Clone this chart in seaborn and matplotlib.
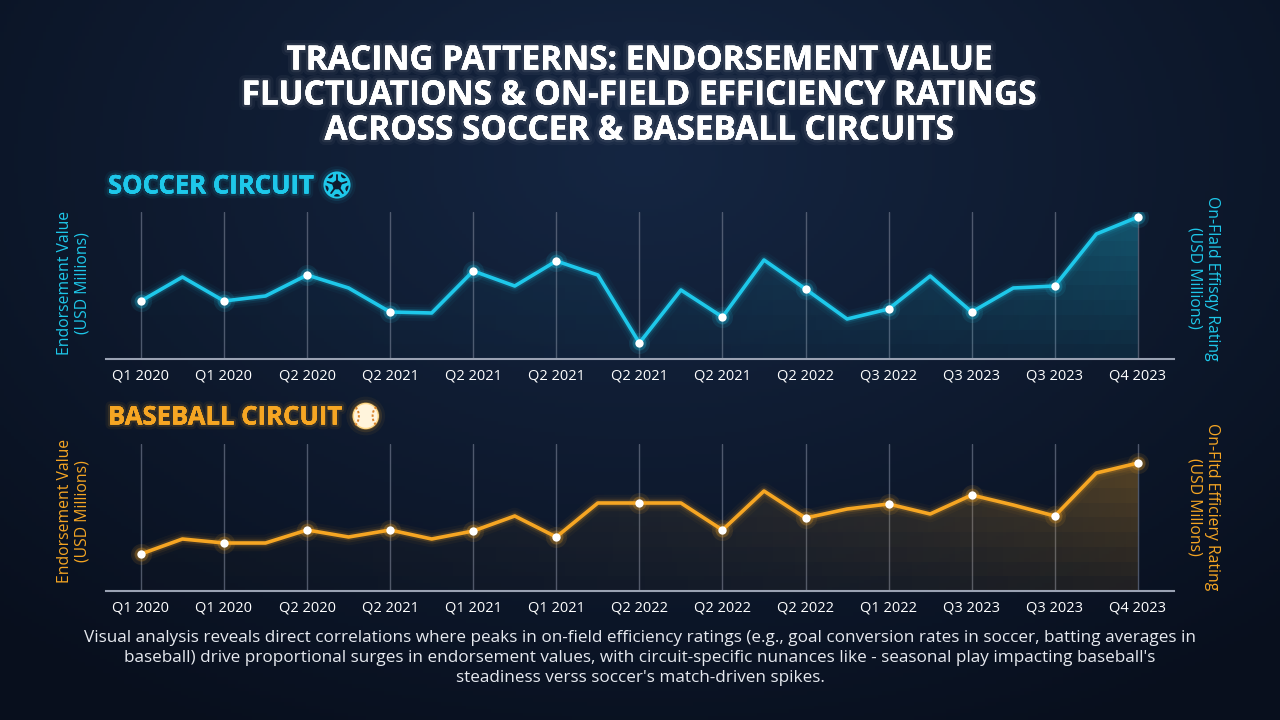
import numpy as np
import pandas as pd
import matplotlib
matplotlib.use("Agg")
import matplotlib.pyplot as plt
import matplotlib.patheffects as pe
from matplotlib.patches import Circle, Polygon, Arc
import seaborn as sns

# ---------------- data ----------------
soccer_values = [5.8, 8.2, 5.8, 6.3, 8.4, 7.1, 4.7, 4.6, 8.8, 7.3, 9.8, 8.4, 1.6,
                 6.9, 4.2, 9.9, 7.0, 4.0, 5.0, 8.3, 4.7, 7.1, 7.3, 12.5, 14.2]
baseball_values = [3.7, 5.2, 4.8, 4.8, 6.1, 5.4, 6.1, 5.2, 6.0, 7.5, 5.4, 8.8, 8.8,
                   8.8, 6.1, 10.0, 7.3, 8.2, 8.7, 7.7, 9.6, 8.6, 7.5, 11.8, 12.8]
soccer_ticks = ["Q1 2020", "Q1 2020", "Q2 2020", "Q2 2021", "Q2 2021", "Q2 2021", "Q2 2021",
                "Q2 2021", "Q2 2022", "Q3 2022", "Q3 2023", "Q3 2023", "Q4 2023"]
baseball_ticks = ["Q1 2020", "Q1 2020", "Q2 2020", "Q2 2021", "Q1 2021", "Q1 2021", "Q2 2022",
                  "Q2 2022", "Q2 2022", "Q1 2022", "Q3 2023", "Q3 2023", "Q4 2023"]

title = ("TRACING PATTERNS: ENDORSEMENT VALUE\n"
         "FLUCTUATIONS & ON-FIELD EFFICIENCY RATINGS\n"
         "ACROSS SOCCER & BASEBALL CIRCUITS")
footer = ("Visual analysis reveals direct correlations where peaks in on-field efficiency ratings (e.g., goal conversion rates in soccer, batting averages in\n"
          "baseball) drive proportional surges in endorsement values, with circuit-specific nunances like - seasonal play impacting baseball's\n"
          "steadiness verss soccer's match-driven spikes.")

sns.set_theme(style="dark")
plt.rcParams['font.family'] = ['Open Sans', 'DejaVu Sans']

W, H = 1280, 720
fig = plt.figure(figsize=(12.8, 7.2), dpi=100)

# ---------------- background ----------------
bg = fig.add_axes([0, 0, 1, 1], zorder=-10)
yy, xx = np.mgrid[0:1:200j, 0:1:360j]
r = np.sqrt(((xx - 0.5) / 0.75) ** 2 + ((yy - 0.22) / 0.9) ** 2)
r = np.clip(r, 0, 1)
c_in = np.array([0x15, 0x26, 0x42]) / 255
c_out = np.array([0x08, 0x0f, 0x1d]) / 255
img = c_in[None, None, :] * (1 - r[..., None]) + c_out[None, None, :] * r[..., None]
bg.imshow(img, extent=[0, 1, 0, 1], aspect='auto', origin='upper')
bg.set_axis_off()


def fx(px):
    return px / W


def fy(py):
    return 1 - py / H


glow_white = [pe.withStroke(linewidth=8, foreground=(1, 1, 1, 0.04)),
              pe.withStroke(linewidth=4, foreground=(1, 1, 1, 0.07)), pe.Normal()]
fig.text(0.5, fy(96), title, ha='center', va='center', color='white',
         fontsize=24, fontweight='bold', linespacing=1.08, path_effects=glow_white)

fig.text(0.5, fy(658), footer, ha='center', va='center', color='#e6e9ef',
         fontsize=12.3, linespacing=1.36)


def icon_axes(cx, cy, rad):
    a = fig.add_axes([fx(cx - rad * 1.6), fy(cy + rad * 1.6), fx(rad * 3.2), rad * 3.2 / H])
    a.set_xlim(-1.6, 1.6)
    a.set_ylim(-1.6, 1.6)
    a.set_axis_off()
    a.set_facecolor((0, 0, 0, 0))
    return a


def soccer_icon(cx, cy, rad, color):
    a = icon_axes(cx, cy, rad)
    dark = '#0d1a2e'
    for rr, al in [(1.5, 0.06), (1.28, 0.12)]:
        a.add_patch(Circle((0, 0), rr, color=color, alpha=al, lw=0))
    a.add_patch(Circle((0, 0), 1.0, facecolor=color, edgecolor=color, lw=1.5))
    ang = np.deg2rad(90 + np.arange(5) * 72)
    pent = np.c_[0.36 * np.cos(ang), 0.36 * np.sin(ang)]
    a.add_patch(Polygon(pent, closed=True, color=dark))
    for t in ang:
        a.plot([0.36 * np.cos(t), 0.8 * np.cos(t)], [0.36 * np.sin(t), 0.8 * np.sin(t)],
               color=dark, lw=1.3)
        tt = t + np.deg2rad(36)
        c = Circle((0.98 * np.cos(tt), 0.98 * np.sin(tt)), 0.26, color=dark, lw=0)
        a.add_patch(c)
        c.set_clip_path(Circle((0, 0), 0.93, transform=a.transData))


def baseball_icon(cx, cy, rad, color):
    a = icon_axes(cx, cy, rad)
    for rr, al in [(1.55, 0.06), (1.3, 0.12), (1.12, 0.25)]:
        a.add_patch(Circle((0, 0), rr, color=color, alpha=al, lw=0))
    a.add_patch(Circle((0, 0), 1.0, facecolor='#fff4dc', edgecolor='#ffd98a', lw=1))
    a.add_patch(Arc((-1.35, 0), 1.6, 1.9, theta1=-55, theta2=55, color='#d9822b', lw=1.4,
                    ls=(0, (1.2, 1.0))))
    a.add_patch(Arc((1.35, 0), 1.6, 1.9, theta1=125, theta2=235, color='#d9822b', lw=1.4,
                    ls=(0, (1.2, 1.0))))


def panel(values, ticks, color, rect, name, icon, title_y, left_y, right_label, right_y):
    ax = fig.add_axes(rect)
    ax.set_facecolor((0, 0, 0, 0))
    n = len(values)
    df = pd.DataFrame({"q": np.arange(n), "v": values})
    ax.set_xlim(-0.84, n - 1 + 0.87)
    ax.set_ylim(0, 14.7)
    tick_pos = np.arange(0, n, 2)
    for t in tick_pos:
        ax.axvline(t, color='#6b7488', lw=1.0, alpha=0.7, zorder=1)
    rgb = matplotlib.colors.to_rgb(color)
    # gradient fill under the line
    poly = ax.fill_between(df.q, df.v, 0, color='none', lw=0)
    grad = np.zeros((10, 200, 4))
    grad[..., :3] = rgb
    gx = np.linspace(0, 1, 200)
    gy = np.linspace(1, 0, 10)[:, None]
    grad[..., 3] = (0.04 + 0.33 * gx ** 2.4)[None, :] * (0.3 + 0.7 * gy)
    im = ax.imshow(grad, extent=[-0.84, n - 0.13, 0, 14.7], aspect='auto',
                   origin='upper', zorder=2)
    im.set_clip_path(poly.get_paths()[0], transform=ax.transData)
    # glow layers
    for lw, a in [(12, 0.04), (8, 0.07), (5, 0.16)]:
        sns.lineplot(data=df, x="q", y="v", ax=ax, color=color, lw=lw, alpha=a,
                     zorder=3, legend=False)
    sns.lineplot(data=df, x="q", y="v", ax=ax, color=color, lw=2.6, zorder=4, legend=False)
    mk = df.iloc[::2]
    sns.scatterplot(data=mk, x="q", y="v", ax=ax, color=color, s=230, alpha=0.1,
                    linewidth=0, zorder=5, legend=False)
    sns.scatterplot(data=mk, x="q", y="v", ax=ax, color=color, s=100, alpha=0.25,
                    linewidth=0, zorder=5, legend=False)
    sns.scatterplot(data=mk, x="q", y="v", ax=ax, color='white', s=36,
                    linewidth=0, zorder=6, legend=False)
    ax.set_xticks(tick_pos)
    ax.set_xticklabels(ticks, color='white', fontsize=10.5)
    ax.set_yticks([])
    ax.set_xlabel("")
    ax.set_ylabel("")
    ax.tick_params(axis='x', length=0, pad=7)
    for s in ['top', 'right', 'left']:
        ax.spines[s].set_visible(False)
    ax.spines['bottom'].set_visible(True)
    ax.spines['bottom'].set_color('#9aa2b3')
    ax.spines['bottom'].set_linewidth(1.5)
    ax.grid(False)
    glow_c = [pe.withStroke(linewidth=7, foreground=rgb + (0.06,)),
              pe.withStroke(linewidth=3.5, foreground=rgb + (0.12,)), pe.Normal()]
    t = fig.text(fx(108), fy(title_y), name, ha='left', va='center', color=color,
                 fontsize=18.5, fontweight='bold', path_effects=glow_c)
    fig.canvas.draw()
    bb = t.get_window_extent()
    rad = 12.5
    icon(bb.x1 + 10 + rad, title_y - 1, rad, color)
    fig.text(fx(74), fy(left_y), "Endorsement Value\n(USD Millions)", rotation=90,
             ha='center', va='center', color=color, fontsize=11.3, linespacing=1.15)
    fig.text(fx(1203), fy(right_y), right_label, rotation=270,
             ha='center', va='center', color=color, fontsize=11.3, linespacing=1.15)
    return ax


ax1 = panel(soccer_values, soccer_ticks, '#1ec8ea',
            [fx(106), fy(359), fx(1174 - 106), (359 - 212) / H],
            "SOCCER CIRCUIT", soccer_icon, 186, 283,
            "On-Flald Effisqy Rating\n(USD Millions)", 278)
ax2 = panel(baseball_values, baseball_ticks, '#f6a623',
            [fx(106), fy(591), fx(1174 - 106), (591 - 444) / H],
            "BASEBALL CIRCUIT", baseball_icon, 417, 511,
            "On-Fltd Efficiery Rating\n(USD Millons)", 507)

fig.savefig("out.png", dpi=100)
